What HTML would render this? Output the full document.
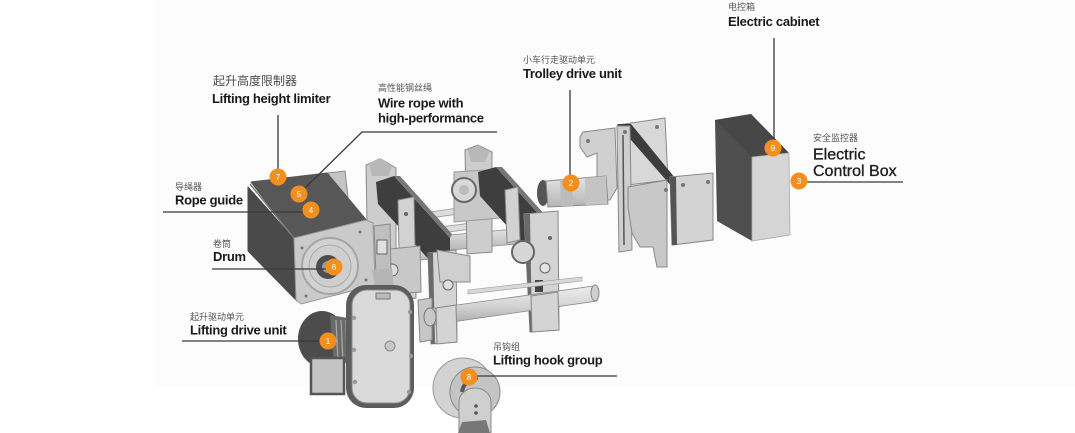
<!DOCTYPE html>
<html>
<head>
<meta charset="utf-8">
<style>
  html,body{margin:0;padding:0;background:#fff;}
  body{width:1075px;height:433px;overflow:hidden;}
  svg{display:block;}
  .en{font-family:"Liberation Sans",Arial,sans-serif;font-weight:bold;font-size:13px;fill:#1a1a1a;letter-spacing:-0.3px;}
  .cn{font-family:"Liberation Sans","Noto Sans CJK SC",sans-serif;font-size:9px;fill:#555;}
  .ln{stroke:#3a3a3a;stroke-width:1.3;fill:none;}
  .mk{fill:#f2901f;}
  .mt{font-family:"Liberation Sans",sans-serif;font-size:8px;fill:#fff;text-anchor:middle;}
</style>
</head>
<body>
<svg width="1075" height="433" viewBox="0 0 1075 433" xmlns="http://www.w3.org/2000/svg">
  <defs>
    <linearGradient id="cyl" x1="0" y1="0" x2="0" y2="1">
      <stop offset="0" stop-color="#eeeeee"/>
      <stop offset="0.5" stop-color="#d4d4d4"/>
      <stop offset="1" stop-color="#a8a8a8"/>
    </linearGradient>
    <linearGradient id="cyl2" x1="0" y1="0" x2="0" y2="1">
      <stop offset="0" stop-color="#e6e6e6"/>
      <stop offset="1" stop-color="#b4b4b4"/>
    </linearGradient>
  </defs>
  <rect x="0" y="0" width="1075" height="433" fill="#fff"/>
  <rect x="155" y="0" width="920" height="386" fill="#fcfcfc"/>

  <!-- ===== Frame A ===== -->
  <polygon points="366,165 381,159 396,168 396,272 368,276" fill="#cdcdcd" stroke="#8a8a8a"/>
  <polygon points="369,163 380,158 392,166 388,176 372,176" fill="#b8b8b8"/>
  <polygon points="416,214 472,206 472,212 416,220" fill="#dcdcdc" stroke="#999" stroke-width="0.8"/>
  <polygon points="416,230 472,223 472,229 416,236" fill="#dcdcdc" stroke="#999" stroke-width="0.8"/>
  <polygon points="440,236 525,228 526,243 441,251" fill="url(#cyl2)" stroke="#8a8a8a" stroke-width="0.8"/>
  <polygon points="400,250 440,246 440,258 400,262" fill="url(#cyl2)" stroke="#8a8a8a" stroke-width="0.8"/>
  <polygon points="376,182 394,176 450,238 450,262 433,264 378,204" fill="#3e3e3e"/>
  <polygon points="394,176 400,176 452,234 450,238" fill="#777"/>
  <polygon points="398,200 414,197 416,298 400,300" fill="#d2d2d2" stroke="#888"/>
  <circle cx="406" cy="214" r="2" fill="#666"/>
  <polygon points="380,250 420,246 421,292 382,295" fill="#c8c8c8" stroke="#8a8a8a"/>
  <circle cx="392" cy="270" r="6" fill="#dcdcdc" stroke="#666"/>
  <polygon points="428,253 456,250 457,342 431,344" fill="#d4d4d4" stroke="#888"/>
  <polygon points="428,253 433,253 435,344 431,344" fill="#6a6a6a"/>
  <polygon points="437,250 470,256 470,282 440,282" fill="#cfcfcf" stroke="#8a8a8a"/>
  <circle cx="448" cy="285" r="5" fill="#e0e0e0" stroke="#666"/>
  <polygon points="418,300 432,298 432,340 420,342" fill="#c6c6c6" stroke="#888"/>

  <!-- ===== Frame B ===== -->
  <polygon points="465,150 478,145 492,152 492,252 467,254" fill="#cdcdcd" stroke="#8a8a8a"/>
  <polygon points="468,150 478,145 489,152 485,162 471,162" fill="#b8b8b8"/>
  <polygon points="454,172 500,169 500,218 454,222" fill="#c8c8c8" stroke="#999"/>
  <circle cx="464" cy="190" r="12" fill="#d8d8d8" stroke="#6a6a6a" stroke-width="2"/>
  <circle cx="464" cy="190" r="5" fill="#bbb"/>
  <polygon points="478,172 496,167 553,230 553,256 536,258 480,196" fill="#3e3e3e"/>
  <polygon points="496,167 502,167 555,226 553,230" fill="#777"/>
  <polygon points="505,190 518,187 520,240 507,243" fill="#d2d2d2" stroke="#888"/>
  <polygon points="524,214 558,211 559,330 530,332" fill="#d4d4d4" stroke="#888"/>
  <polygon points="524,214 530,214 532,332 530,332" fill="#6a6a6a"/>
  <circle cx="523" cy="252" r="11" fill="#d6d6d6" stroke="#666" stroke-width="2"/>
  <circle cx="545" cy="268" r="5" fill="#e4e4e4" stroke="#666"/>
  <rect x="535" y="280" width="8" height="12" fill="#444"/>
  <circle cx="550" cy="238" r="2" fill="#666"/>

  <polygon points="468,290 582,277 582,281 468,294" fill="#d8d8d8" stroke="#999" stroke-width="0.6"/>
  <polygon points="428,309 594,286 597,301 431,325" fill="url(#cyl)" stroke="#8a8a8a" stroke-width="0.8"/>
  <ellipse cx="595" cy="293" rx="4" ry="8" fill="#d0d0d0" stroke="#888"/>
  <ellipse cx="430" cy="317" rx="6" ry="9" fill="#c8c8c8" stroke="#777"/>
  <polygon points="531,296 558,292 559,330 532,332" fill="#d4d4d4" stroke="#888"/>
  <polygon points="436,308 456,305 457,342 437,344" fill="#d4d4d4" stroke="#888"/>

  <!-- ===== Right bracket plates ===== -->
  <polygon points="580,137 583,132 615,128 617,188 610,200 600,200 597,182 597,153 587,157 580,147" fill="#d0d0d0" stroke="#8a8a8a"/>
  <circle cx="588" cy="141" r="2" fill="#777"/>
  <ellipse cx="543" cy="193" rx="6" ry="13" fill="#555"/>
  <polygon points="546,181 606,176 608,204 548,207" fill="url(#cyl2)" stroke="#8a8a8a"/>
  <polygon points="560,180 572,179 573,206 561,206" fill="#bcbcbc"/>
  <polygon points="585,178 606,176 607,204 586,205" fill="#c4c4c4"/>
  <polygon points="618,125 665,118 668,180 620,186" fill="#d8d8d8" stroke="#888"/>
  <polygon points="617,124 631,124 675,178 673,188" fill="#3c3c3c"/>
  <polygon points="617,126 630,126 632,250 619,252" fill="#cfcfcf" stroke="#888"/>
  <line x1="623" y1="135" x2="624" y2="245" stroke="#555" stroke-width="1.5"/>
  <circle cx="625" cy="132" r="2" fill="#777"/>
  <circle cx="657" cy="127" r="2" fill="#777"/>
  <polygon points="628,187 667,180 667,267 657,267 653,247 640,247 632,233 628,207" fill="#c8c8c8" stroke="#888"/>
  <circle cx="666" cy="190" r="2" fill="#777"/>
  <polygon points="670,177 713,173 713,240 672,245" fill="#d3d3d3" stroke="#888"/>
  <polygon points="670,177 676,177 677,245 672,245" fill="#555"/>
  <circle cx="683" cy="185" r="2" fill="#777"/>
  <circle cx="708" cy="182" r="2" fill="#777"/>

  <!-- ===== Electric cabinet ===== -->
  <polygon points="715,120 751,114 789,153 752,158 752,241 717,221" fill="#4f4f4f"/>
  <polygon points="751,114 789,153 752,158 715,120" fill="#474747"/>
  <polygon points="752,157 789,153 790,235 752,241" fill="#d5d5d5" stroke="#aaa" stroke-width="0.8"/>

  <!-- ===== Drum ===== -->
  <polygon points="328,173 345,171 349,206 340,206" fill="#c4c4c4" stroke="#888"/>
  <polygon points="251,182 327,173 368,222 294,239" fill="#575757" stroke="#555" stroke-linejoin="round"/>
  <polygon points="248,187 294,239 297,301 248,251" fill="#4a4a4a" stroke="#4a4a4a" stroke-linejoin="round"/>
  <line x1="250" y1="184" x2="294" y2="238" stroke="#7a7a7a" stroke-width="1.5"/>
  <polygon points="294,238 366,220 373,223 375,285 301,304 296,300" fill="#cacaca" stroke="#999"/>
  <circle cx="330" cy="266" r="28" fill="#d2d2d2" stroke="#a5a5a5" stroke-width="2"/>
  <circle cx="330" cy="266" r="21" fill="#cfcfcf" stroke="#aaa"/>
  <circle cx="328" cy="267" r="12" fill="#4e4e4e"/>
  <circle cx="328" cy="267" r="6" fill="#9a9a9a"/>
  <circle cx="302" cy="248" r="1.5" fill="#777"/>
  <circle cx="360" cy="232" r="1.5" fill="#777"/>
  <circle cx="306" cy="296" r="1.5" fill="#777"/>
  <circle cx="366" cy="280" r="1.5" fill="#777"/>
  <polygon points="374,226 390,224 391,272 376,276" fill="#bfbfbf" stroke="#888"/>
  <rect x="377" y="240" width="10" height="14" fill="#e0e0e0" stroke="#666"/>
  <polygon points="372,270 392,268 394,290 376,292" fill="#b5b5b5"/>

  <!-- ===== Lifting drive unit ===== -->
  <ellipse cx="322" cy="339" rx="24" ry="28" fill="#4c4c4c"/>
  <polygon points="330,315 348,318 350,362 334,366" fill="#6a6a6a"/>
  <line x1="336" y1="320" x2="338" y2="362" stroke="#aaa" stroke-width="1.2"/>
  <line x1="341" y1="320" x2="343" y2="362" stroke="#aaa" stroke-width="1.2"/>
  <line x1="346" y1="320" x2="347" y2="360" stroke="#aaa" stroke-width="1.2"/>
  <rect x="311" y="358" width="33" height="36" fill="#c4c4c4" stroke="#555" stroke-width="2.5"/>
  <rect x="346" y="285" width="68" height="123" rx="20" fill="#5c5c5c"/>
  <rect x="352" y="290" width="58" height="113" rx="15" fill="#dadada" stroke="#8a8a8a"/>
  <circle cx="390" cy="346" r="5" fill="#c8c8c8" stroke="#888"/>
  <rect x="376" y="293" width="14" height="6" fill="#bbb" stroke="#777"/>
  <circle cx="354" cy="318" r="2.2" fill="#999"/>
  <circle cx="354" cy="350" r="2.2" fill="#999"/>
  <circle cx="355" cy="382" r="2.2" fill="#999"/>
  <circle cx="410" cy="312" r="2.2" fill="#999"/>
  <circle cx="411" cy="356" r="2.2" fill="#999"/>
  <circle cx="409" cy="392" r="2.2" fill="#999"/>

  <!-- ===== Lifting hook group ===== -->
  <circle cx="463" cy="388" r="30" fill="#d3d3d3" stroke="#999"/>
  <circle cx="475" cy="392" r="25" fill="#c4c4c4" stroke="#888"/>
  <path d="M 462 392 A 16 16 0 0 1 478 378" stroke="#5a5a5a" stroke-width="4" fill="none"/>
  <path d="M 459 433 L 459 402 A 16 14 0 0 1 491 402 L 491 433 Z" fill="#cfcfcf" stroke="#888"/>
  <circle cx="476" cy="406" r="1.8" fill="#555"/>
  <circle cx="476" cy="413" r="1.8" fill="#555"/>
  <polygon points="462,422 486,420 490,433 458,433" fill="#777"/>

  <!-- ===== Leader lines ===== -->
  <line class="ln" x1="278" y1="115" x2="278" y2="169"/>
  <polyline class="ln" points="497,132 362,132 304,189"/>
  <line class="ln" x1="163" y1="212" x2="303" y2="212"/>
  <line class="ln" x1="212" y1="269" x2="326" y2="269"/>
  <line class="ln" x1="182" y1="341" x2="320" y2="341"/>
  <line class="ln" x1="477" y1="376" x2="617" y2="376"/>
  <line class="ln" x1="570" y1="90" x2="570" y2="175"/>
  <line class="ln" x1="774" y1="38" x2="774" y2="140"/>
  <line class="ln" x1="807" y1="182" x2="903" y2="182"/>

  <!-- ===== Markers ===== -->
  <circle class="mk" cx="278" cy="177" r="8.5"/><text class="mt" x="278" y="180">7</text>
  <circle class="mk" cx="299" cy="194" r="8.5"/><text class="mt" x="299" y="197">5</text>
  <circle class="mk" cx="311" cy="210" r="8.5"/><text class="mt" x="311" y="213">4</text>
  <circle class="mk" cx="334" cy="267" r="8.5"/><text class="mt" x="334" y="270">6</text>
  <circle class="mk" cx="328" cy="341" r="8.5"/><text class="mt" x="328" y="344">1</text>
  <circle class="mk" cx="469" cy="377" r="8.5"/><text class="mt" x="469" y="380">8</text>
  <circle class="mk" cx="571" cy="183" r="8.5"/><text class="mt" x="571" y="186">2</text>
  <circle class="mk" cx="773" cy="148" r="8.5"/><text class="mt" x="773" y="151">9</text>
  <circle class="mk" cx="799" cy="181" r="8.5"/><text class="mt" x="799" y="184">3</text>

  <!-- ===== Labels ===== -->
  <text class="cn" x="213" y="85" style="font-size:12px;fill:#4a4a4a">起升高度限制器</text>
  <text class="en" x="212" y="103">Lifting height limiter</text>

  <text class="cn" x="378" y="91">高性能钢丝绳</text>
  <text class="en" x="378" y="107.5">Wire rope with</text>
  <text class="en" x="378" y="122.5">high-performance</text>

  <text class="cn" x="175" y="190">导绳器</text>
  <text class="en" x="175" y="204.5">Rope guide</text>

  <text class="cn" x="213" y="247">卷筒</text>
  <text class="en" x="213" y="261">Drum</text>

  <text class="cn" x="190" y="320">起升驱动单元</text>
  <text class="en" x="190" y="334.5">Lifting drive unit</text>

  <text class="cn" x="493" y="350">吊钩组</text>
  <text class="en" x="493" y="364.5">Lifting hook group</text>

  <text class="cn" x="523" y="63">小车行走驱动单元</text>
  <text class="en" x="523" y="78">Trolley drive unit</text>

  <text class="cn" x="728" y="10">电控箱</text>
  <text class="en" x="728" y="26">Electric cabinet</text>

  <text class="cn" x="813" y="141">安全监控器</text>
  <text x="813" y="159.5" style="font-family:'Liberation Sans',Arial,sans-serif;font-size:16px;fill:#1f1f1f;stroke:#1f1f1f;stroke-width:0.35;">Electric</text>
  <text x="813" y="176" style="font-family:'Liberation Sans',Arial,sans-serif;font-size:16px;fill:#1f1f1f;stroke:#1f1f1f;stroke-width:0.35;">Control Box</text>
</svg>
</body>
</html>
